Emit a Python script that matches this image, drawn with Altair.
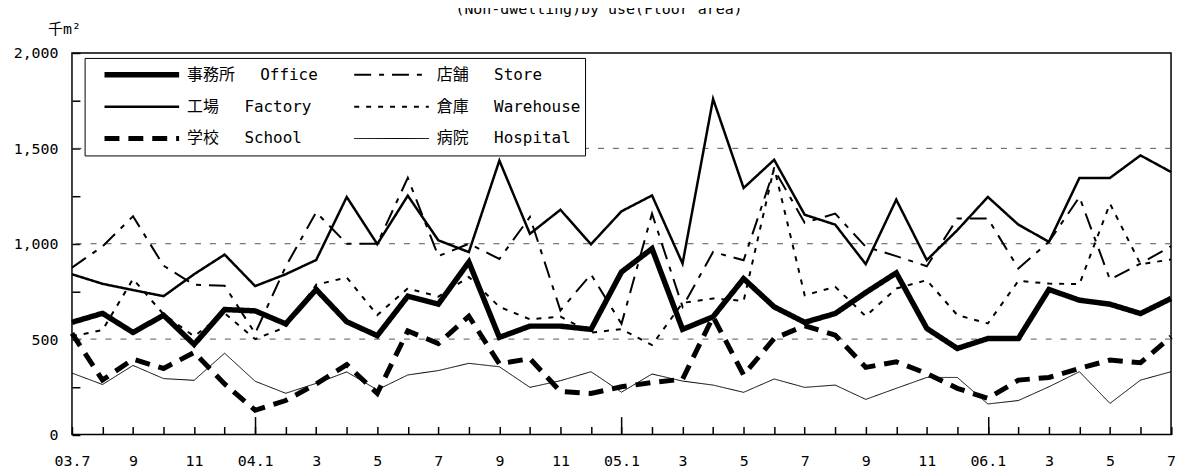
import json
import altair as alt
import pandas as pd

months = ["2003-07", "2003-08", "2003-09", "2003-10", "2003-11", "2003-12",
          "2004-01", "2004-02", "2004-03", "2004-04", "2004-05", "2004-06",
          "2004-07", "2004-08", "2004-09", "2004-10", "2004-11", "2004-12",
          "2005-01", "2005-02", "2005-03", "2005-04", "2005-05", "2005-06",
          "2005-07", "2005-08", "2005-09", "2005-10", "2005-11", "2005-12",
          "2006-01", "2006-02", "2006-03", "2006-04", "2006-05", "2006-06",
          "2006-07"]

office = [588, 635, 535, 625, 472, 655, 648, 580, 760, 591, 518, 725, 683, 904, 509, 568, 568, 551, 852,
          974, 551, 617, 817, 669, 588, 634, 744, 847, 556, 451, 503, 503, 760, 704, 683, 634, 713]
factory = [840, 790, 757, 725, 840, 943, 778, 840, 915, 1245, 998, 1252, 1018, 956, 1436, 1052, 1178, 997, 1170,
           1253, 896, 1759, 1292, 1440, 1152, 1100, 893, 1231, 914, 1071, 1245, 1100, 1010, 1345, 1345, 1463, 1376]
store = [875, 986, 1144, 885, 785, 780, 530, 880, 1165, 1000, 1000, 1345, 935, 1000, 920, 1140, 650, 840, 580,
         1158, 669, 957, 913, 1390, 1110, 1158, 984, 935, 882, 1132, 1132, 870, 1010, 1245, 812, 896, 987]
warehouse = [515, 547, 815, 630, 515, 636, 500, 563, 785, 823, 626, 766, 723, 826, 669, 604, 618, 534, 552,
             469, 690, 713, 700, 1400, 730, 774, 620, 765, 809, 626, 582, 805, 791, 788, 1210, 893, 917]
school = [530, 285, 395, 346, 430, 265, 127, 178, 265, 366, 216, 543, 477, 620, 370, 398, 225, 215, 250,
          272, 290, 617, 312, 503, 570, 521, 352, 381, 320, 242, 189, 285, 299, 346, 390, 376, 512]
hospital = [322, 262, 362, 293, 284, 426, 279, 216, 268, 328, 234, 312, 335, 373, 355, 247, 282, 329, 222,
            317, 280, 259, 221, 291, 247, 259, 184, 242, 299, 299, 160, 178, 250, 329, 163, 285, 329]

# legend fills column by column: first column Office/Factory/School, second Store/Warehouse/Hospital
series_names = ["事務所\u3000\u00a0Office", "工場\u3000\u00a0Factory", "学校\u3000\u00a0School",
                "店舗\u3000\u00a0Store", "倉庫\u3000\u00a0Warehouse", "病院\u3000\u00a0Hospital"]
series_values = [office, factory, school, store, warehouse, hospital]
series_dash = [[1, 0], [1, 0], [15, 9], [17, 8, 5, 8], [5, 7], [1, 0]]
series_width = [5.5, 2.5, 5, 2, 2, 1]

x_tick_labels = ["03.7", "9", "11", "04.1", "3", "5", "7", "9", "11", "05.1",
                 "3", "5", "7", "9", "11", "06.1", "3", "5", "7"]
year_starts = ["2004-01", "2005-01", "2006-01"]
y_ticks = [0, 250, 500, 750, 1000, 1250, 1500, 1750, 2000]
grid_values = [500, 1000, 1500]

title_text = "(Non-dwelling)by use(Floor area)"
unit_text = "千m²"

rows = []
for name, vals in zip(series_names, series_values):
    for i, (m, v) in enumerate(zip(months, vals)):
        rows.append({"idx": i, "month": m, "series": name, "value": v})
df = pd.DataFrame(rows)

FONT = "DejaVu Sans Mono, Noto Sans CJK JP"
n = len(months)
xscale = alt.Scale(domain=[0, n - 1], nice=False, zero=False)
yscale = alt.Scale(domain=[0, 2000], nice=False)

label_arr = json.dumps(x_tick_labels, ensure_ascii=False)

leg = alt.Legend(
    title=None, orient="none", legendX=12.7, legendY=5, columns=2,
    symbolType="stroke", symbolSize=5625, clipHeight=26, rowPadding=6,
    columnPadding=20, symbolOffset=13, labelOffset=5, padding=4,
    strokeColor="black", fillColor="white",
    labelFont=FONT, labelFontSize=16, labelColor="black", labelLimit=0,
    symbolStrokeColor="black",
)

grid = alt.Chart(pd.DataFrame({"v": grid_values})).mark_rule(
    color="#555555", strokeDash=[6, 9], strokeWidth=1
).encode(y=alt.Y("v:Q", scale=yscale))

lines = alt.Chart(df).mark_line(color="black", strokeCap="butt").encode(
    x=alt.X("idx:Q", scale=xscale, axis=alt.Axis(
        values=list(range(n)), orient="bottom",
        labelExpr=f"datum.value % 2 == 0 ? {label_arr}[datum.value / 2] : ''",
        tickSize=alt.ExprRef("-8"), labelPadding=27, domain=False, grid=False,
        labelFlush=False, labelOverlap=False, title=None)),
    y=alt.Y("value:Q", scale=yscale, axis=alt.Axis(
        values=y_ticks,
        labelExpr="datum.value % 500 == 0 ? datum.label : ''",
        tickSize=alt.ExprRef("-8"), labelPadding=22, domain=False, grid=False,
        labelOverlap=False, title=unit_text, titleAngle=0, titleX=-8, titleY=-20,
        titleAlign="center", titleBaseline="alphabetic", titleFont=FONT,
        titleFontSize=15, titleFontWeight="normal", titleColor="black")),
    strokeDash=alt.StrokeDash("series:N", scale=alt.Scale(domain=series_names, range=series_dash), legend=leg),
    strokeWidth=alt.StrokeWidth("series:N", scale=alt.Scale(type="ordinal", domain=series_names, range=series_width),
                                legend=leg),
    order="idx:Q",
)

majors = alt.Chart(pd.DataFrame({"idx": [months.index(m) for m in year_starts]})).mark_point(opacity=0).encode(
    x=alt.X("idx:Q", scale=xscale, axis=alt.Axis(
        values=[months.index(m) for m in year_starts], orient="bottom",
        tickSize=alt.ExprRef("-18"), labels=False, domain=False, grid=False, title=None))
)

chart = alt.layer(grid, lines, majors).resolve_axis(x="independent").properties(
    width=1104.7, height=383.5,
    autosize=alt.AutoSizeParams(type="none"),
    padding={"left": 64.3, "top": 44, "right": 5, "bottom": 33},
    title=alt.TitleParams(text=title_text, font=FONT, fontSize=15, fontWeight="normal",
                          color="black", anchor="middle", frame="group", offset=0,
                          dx=-22.6, dy=8, baseline="alphabetic"),
).configure_view(stroke="black", strokeWidth=1.5).configure_axis(
    labelFont=FONT, labelFontSize=15, labelColor="black", tickColor="black", tickWidth=1.5
)

chart.save("out.html", embed_options={"renderer": "svg", "actions": False})
